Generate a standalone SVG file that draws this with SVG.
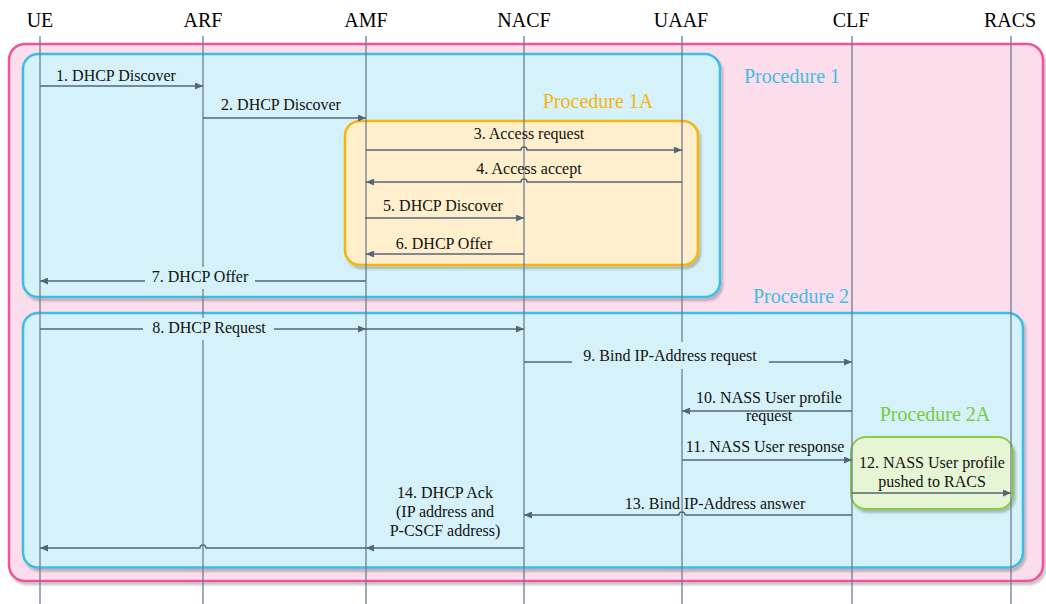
<svg xmlns="http://www.w3.org/2000/svg" width="1046" height="604" viewBox="0 0 1046 604">
<defs>
<filter id="sh" x="-5%" y="-5%" width="112%" height="115%"><feDropShadow dx="2" dy="3" stdDeviation="1" flood-color="#000" flood-opacity="0.22"/></filter>
<marker id="ah" markerWidth="9" markerHeight="7" refX="8" refY="3.5" orient="auto" markerUnits="userSpaceOnUse"><path d="M0,0 L8,3.5 L0,7 Z" fill="#56657A"/></marker>
</defs>
<style>
.hdr{font-family:"Liberation Serif","Times New Roman",serif;font-size:20px;fill:#000;text-anchor:middle}
.lbl{font-family:"Liberation Serif","Times New Roman",serif;font-size:16px;fill:#111;text-anchor:middle}
.proc{font-family:"Liberation Serif","Times New Roman",serif;font-size:20px;text-anchor:middle}
.life{stroke:#6F7E90;stroke-width:1.3;fill:none}
.msg{stroke:#56657A;stroke-width:1.3;fill:none;marker-end:url(#ah)}
.bg{fill:#D5F1FA}
.box{filter:url(#sh);stroke-width:2.5}
</style>
<rect width="1046" height="604" fill="#fff"/>
<g id="outer"><rect class="box" x="9" y="44" width="1034" height="537" rx="16" fill="#FCDDEC" stroke="#F0529B"/></g>
<g id="procedure-1"><rect class="box" x="23" y="54" width="697" height="243" rx="15" fill="#D5F1FA" stroke="#3CBDE6"/><text class="proc" x="792" y="83" fill="#3CBDE6">Procedure 1</text></g>
<g id="procedure-1a"><rect class="box" x="345" y="121" width="353" height="144" rx="15" fill="#FFEFCC" stroke="#F5B50F"/><text class="proc" x="598" y="108" fill="#F5B50F">Procedure 1A</text></g>
<g id="procedure-2"><rect class="box" x="23" y="313" width="1000" height="254.5" rx="15" fill="#D5F1FA" stroke="#3CBDE6"/><text class="proc" x="801" y="303" fill="#3CBDE6">Procedure 2</text></g>
<g id="procedure-2a"><rect class="box" x="851" y="437" width="162" height="72" rx="15" fill="#E6F5D4" stroke="#8ACB44" style="stroke-width:2"/><text class="proc" x="935" y="421" fill="#7DC940">Procedure 2A</text></g>
<g id="ue"><text class="hdr" x="40" y="27">UE</text><line class="life" x1="40" y1="36" x2="40" y2="604"/></g>
<g id="arf"><text class="hdr" x="203" y="27">ARF</text><line class="life" x1="203" y1="36" x2="203" y2="604"/></g>
<g id="amf"><text class="hdr" x="366" y="27">AMF</text><line class="life" x1="366" y1="36" x2="366" y2="604"/></g>
<g id="nacf"><text class="hdr" x="524" y="27">NACF</text><line class="life" x1="524" y1="36" x2="524" y2="604"/></g>
<g id="uaaf"><text class="hdr" x="681" y="27">UAAF</text><line class="life" x1="682" y1="36" x2="682" y2="604"/></g>
<g id="clf"><text class="hdr" x="851" y="27">CLF</text><line class="life" x1="852" y1="36" x2="852" y2="604"/></g>
<g id="racs"><text class="hdr" x="1010" y="27">RACS</text><line class="life" x1="1011" y1="36" x2="1011" y2="604"/></g>
<g id="connectors">
<path class="msg" d="M40,86 H203"/>
<path class="msg" d="M203,118 H366"/>
<path class="msg" d="M366,150 H521 A3,3 0 0 1 527,150 H682"/>
<path class="msg" d="M682,182 H527 A3,3 0 0 0 521,182 H366"/>
<path class="msg" d="M365,218 H524"/>
<path class="msg" d="M524,254 H366"/>
<path class="msg" d="M366,281 H40"/>
<path class="msg" d="M40,329 H366"/>
<path class="msg" d="M366,329 H524"/>
<path class="msg" d="M524,362 H852"/>
<path class="msg" d="M852,411 H682"/>
<path class="msg" d="M682,460 H852"/>
<path class="msg" d="M852,493 H1011"/>
<path class="msg" d="M852,515 H685 A3,3 0 0 0 679,515 H524"/>
<path class="msg" d="M524,548 H366"/>
<path class="msg" d="M366,548 H206 A3,3 0 0 0 200,548 H40"/>
<rect class="bg" x="145" y="267" width="110" height="22"/>
<rect class="bg" x="143" y="318" width="131" height="22"/>
<rect class="bg" x="572" y="342" width="197" height="27"/>
<text class="lbl" x="116" y="81">1. DHCP Discover</text>
<text class="lbl" x="281" y="110">2. DHCP Discover</text>
<text class="lbl" x="529" y="139">3. Access request</text>
<text class="lbl" x="529" y="174">4. Access accept</text>
<text class="lbl" x="443" y="211">5. DHCP Discover</text>
<text class="lbl" x="444" y="249">6. DHCP Offer</text>
<text class="lbl" x="200" y="282">7. DHCP Offer</text>
<text class="lbl" x="209" y="333">8. DHCP Request</text>
<text class="lbl" x="670" y="361">9. Bind IP-Address request</text>
<text class="lbl" x="769" y="403">10. NASS User profile<tspan x="769" y="421">request</tspan></text>
<text class="lbl" x="765" y="452">11. NASS User response</text>
<text class="lbl" x="932" y="468">12. NASS User profile<tspan x="932" y="487">pushed to RACS</tspan></text>
<text class="lbl" x="715" y="509">13. Bind IP-Address answer</text>
<text class="lbl" x="445" y="498">14. DHCP Ack<tspan x="445" y="517">(IP address and</tspan><tspan x="445" y="536">P-CSCF address)</tspan></text>
</g>
</svg>
